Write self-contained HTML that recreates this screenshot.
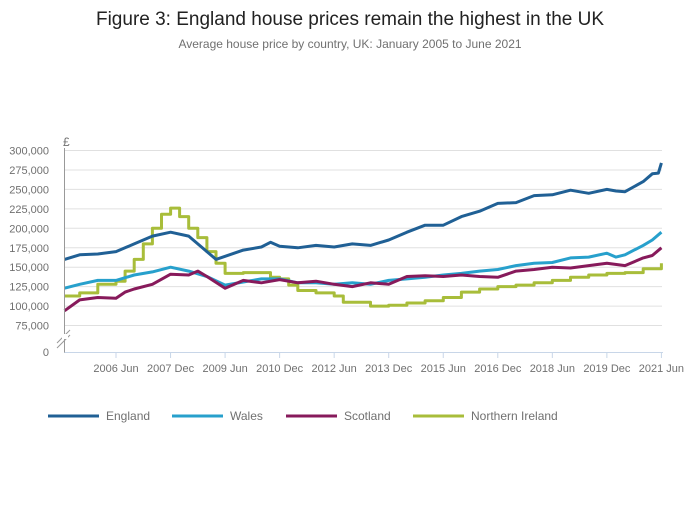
<!DOCTYPE html>
<html><head><meta charset="utf-8">
<style>
body{margin:0;background:#fff;font-family:"Liberation Sans",sans-serif;}
svg text{font-family:"Liberation Sans",sans-serif;}
</style></head>
<body>
<svg id="chart" width="700" height="502" xmlns="http://www.w3.org/2000/svg">
<text x="350" y="25" text-anchor="middle" font-size="19" fill="#222">Figure 3: England house prices remain the highest in the UK</text>
<text x="350" y="48" text-anchor="middle" font-size="12" fill="#707070">Average house price by country, UK: January 2005 to June 2021</text>
<g id="grid"></g><g id="series"></g><g id="axes"></g><g id="legend"></g>
</svg>
<script>
const yTicks=[75000,100000,125000,150000,175000,200000,225000,250000,275000,300000];
const xTickLabels=["2006 Jun","2007 Dec","2009 Jun","2010 Dec","2012 Jun","2013 Dec","2015 Jun","2016 Dec","2018 Jun","2019 Dec","2021 Jun"];
const xTickMonths=[17,35,53,71,89,107,125,143,161,179,197];
const seriesNames=["England","Wales","Scotland","Northern Ireland"];
const seriesColors=["#206095","#27a0cc","#871a5b","#a8bd3a"];
const englandMonths=[0,5,11,17,23,29,35,41,47,50,59,65,68,71,77,83,89,95,101,107,113,119,125,131,137,143,149,155,161,167,173,179,182,185,191,194,196,197];
const englandValues=[160000,166000,167000,170000,180000,190000,195000,190000,170000,160000,172000,176000,182000,177000,175000,178000,176000,180000,178000,185000,195000,204000,204000,215000,222000,232000,233000,242000,243000,249000,245000,250000,248000,247000,260000,270000,271000,284000];
const walesMonths=[0,5,11,17,23,29,35,41,47,53,59,65,71,77,83,89,95,101,107,113,119,125,131,137,143,149,155,161,167,173,179,182,185,191,194,197];
const walesValues=[123000,128000,133000,133000,140000,144000,150000,145000,138000,127000,131000,135000,135000,130000,130000,128000,130000,128000,133000,135000,137000,140000,142000,145000,147000,152000,155000,156000,162000,163000,168000,163000,166000,178000,185000,195000];
const scotlandMonths=[0,5,11,17,20,23,29,35,41,44,47,53,59,65,71,77,83,89,95,101,107,113,119,125,131,137,143,149,155,161,167,173,179,185,191,194,197];
const scotlandValues=[94000,108000,111000,110000,118000,122000,128000,141000,140000,145000,138000,123000,133000,130000,134000,130000,132000,128000,125000,130000,128000,138000,139000,138000,140000,138000,137000,145000,147000,150000,149000,152000,155000,152000,162000,165000,175000];
const niMonths=[0,5,11,17,20,23,26,29,32,35,38,41,44,47,50,53,59,65,68,71,74,77,83,89,92,95,101,107,113,119,125,131,137,143,149,155,161,167,173,179,185,191,197];
const niValues=[113000,117000,128000,132000,145000,160000,180000,200000,218000,226000,215000,200000,188000,170000,155000,142000,143000,143000,137000,135000,127000,120000,117000,113000,105000,105000,100000,101000,104000,107000,111000,118000,122000,125000,127000,130000,133000,137000,140000,142000,143000,148000,155000];
const allMonths=[englandMonths,walesMonths,scotlandMonths,niMonths];
const allValues=[englandValues,walesValues,scotlandValues,niValues];

const NS="http://www.w3.org/2000/svg";
const X0=64.5,PXM=3.03,Y300=150.5,PXV=19.45/25000,YZERO=352;
function xs(m){return X0+m*PXM;}
function ys(v){return Y300+(300000-v)*PXV;}
function mk(tag,attrs,parent){const e=document.createElementNS(NS,tag);for(const k in attrs)e.setAttribute(k,attrs[k]);parent.appendChild(e);return e;}
const grid=document.getElementById('grid'),axes=document.getElementById('axes'),ser=document.getElementById('series'),leg=document.getElementById('legend');
yTicks.forEach(v=>{
  const l=mk('line',{x1:X0,x2:662,y1:ys(v),y2:ys(v),stroke:'#e0e0e0','stroke-width':1},grid);
  
  
  const t=mk('text',{x:49,y:ys(v)+4,'text-anchor':'end','font-size':11,fill:'#707070'},axes);
  t.textContent=v.toLocaleString('en-GB');
  
  
});
const z=mk('text',{x:49,y:YZERO+4,'text-anchor':'end','font-size':11,fill:'#707070'},axes);z.textContent='0';


const cur=mk('text',{x:63,y:146,'font-size':12,fill:'#707070'},axes);cur.textContent='£';


const ya=mk('line',{x1:X0,x2:X0,y1:148,y2:YZERO+1,stroke:'#999','stroke-width':1},axes);


const br=mk('path',{d:`M57 ${343} L70 ${330} M57 ${348} L70 ${335}`,stroke:'#999','stroke-width':1,fill:'none'},axes);


mk('rect',{x:62,y:334,width:6,height:5,fill:'#fff'},axes);
const xa=mk('line',{x1:X0,x2:663,y1:YZERO+.5,y2:YZERO+.5,stroke:'#c8d6e8','stroke-width':1},axes);


xTickMonths.forEach((m,i)=>{
  const tk=mk('line',{x1:xs(m),x2:xs(m),y1:YZERO,y2:YZERO+6,stroke:'#c8d6e8'},axes);
  
  
  const t=mk('text',{x:xs(m),y:372,'text-anchor':'middle','font-size':11,fill:'#707070'},axes);
  t.textContent=xTickLabels[i];
  
  
});
const order=[3,1,2,0];
order.forEach(i=>{
  const ms=allMonths[i],vs=allValues[i];
  let d;
  if(i===3){
    d='M'+xs(ms[0]).toFixed(1)+' '+ys(vs[0]).toFixed(1);
    for(let j=1;j<ms.length;j++){d+=' H'+xs(ms[j]).toFixed(1)+' V'+ys(vs[j]).toFixed(1);}
  } else {
    d=ms.map((m,j)=>(j?'L':'M')+xs(m).toFixed(1)+' '+ys(vs[j]).toFixed(1)).join(' ');
  }
  const p=mk('path',{d:d,stroke:seriesColors[i],'stroke-width':3,fill:'none','stroke-linejoin':'round'},ser);
  
  
});
const legX=[48,172,286,413];
seriesNames.forEach((n,i)=>{
  const g=mk('g',{},leg);
  
  
  mk('line',{x1:legX[i],x2:legX[i]+51,y1:416,y2:416,stroke:seriesColors[i],'stroke-width':3},g);
  const t=mk('text',{x:legX[i]+58,y:420,'font-size':12,fill:'#707070'},g);t.textContent=n;
});
</script>
</body></html>
